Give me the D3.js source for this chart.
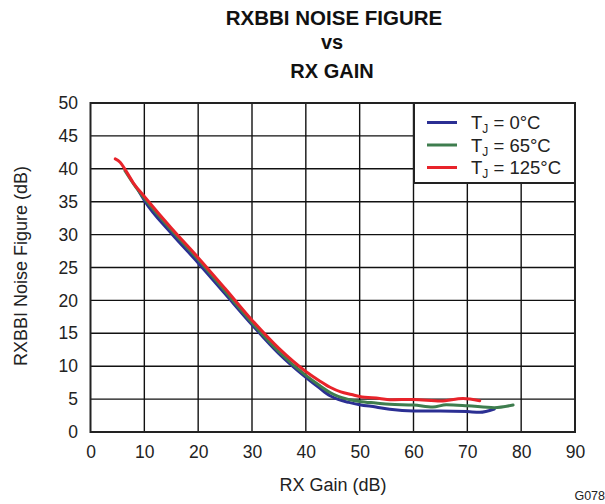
<!DOCTYPE html>
<html>
<head>
<meta charset="utf-8">
<script src="https://cdn.jsdelivr.net/npm/d3@7"></script>
<style>
  html, body { margin: 0; padding: 0; background: #fff; }
  svg { display: block; font-family: Arial, "Liberation Sans", Helvetica, sans-serif; }
</style>
</head>
<body>
<svg id="chart" width="605" height="504"></svg>
<script>
// ---- data ----
const xTicks = [0, 10, 20, 30, 40, 50, 60, 70, 80, 90];
const yTicks = [0, 5, 10, 15, 20, 25, 30, 35, 40, 45, 50];

const gain0 = [8.9, 10, 15, 20, 25, 30, 35, 40, 42.5, 44.5, 46, 48, 50, 53, 55.6, 60, 65, 70, 72.3, 75];
const nf0   = [36.7, 35.2, 30.2, 25.7, 21.0, 16.3, 11.9, 8.3, 6.7, 5.5, 4.95, 4.5, 4.15, 3.8, 3.45, 3.2, 3.2, 3.1, 3.0, 3.5];

const gain65 = [6.4, 8, 10, 15, 20, 25, 30, 35, 40, 42.5, 44.5, 46, 48, 50, 53, 55.6, 60, 63.6, 66.1, 70, 75, 78.5];
const nf65   = [39.7, 37.7, 35.5, 30.7, 26.2, 21.4, 16.6, 12.2, 8.6, 7.1, 6.0, 5.4, 4.95, 4.65, 4.4, 4.2, 4.1, 3.8, 4.15, 4.0, 3.7, 4.1];

const gain125 = [4.6, 5.5, 6.5, 8, 10, 15, 20, 25, 30, 35, 40, 42.5, 44.5, 46.5, 48.5, 50, 53.7, 55.6, 60, 65, 69.2, 72.3];
const nf125   = [41.5, 41.0, 39.8, 37.8, 35.8, 31.0, 26.5, 21.8, 17.0, 12.7, 9.2, 7.8, 6.8, 6.1, 5.7, 5.4, 5.1, 4.9, 4.95, 4.7, 5.1, 4.75];

const seriesNames = ["0°C", "65°C", "125°C"];
const seriesColors = ["#2b2f93", "#3e7d4e", "#e8232a"];

const series = [
  { name: seriesNames[0], color: seriesColors[0], pts: gain0.map((g, i) => [g, nf0[i]]) },
  { name: seriesNames[1], color: seriesColors[1], pts: gain65.map((g, i) => [g, nf65[i]]) },
  { name: seriesNames[2], color: seriesColors[2], pts: gain125.map((g, i) => [g, nf125[i]]) }
];

// ---- layout ----
const svg = d3.select("#chart");
const L = 90.5, R = 575, T = 103, B = 432;
const x = d3.scaleLinear().domain([0, 90]).range([L, R]);
const y = d3.scaleLinear().domain([0, 50]).range([B, T]);

// title
const title = svg.append("g").attr("font-weight", "bold").attr("text-anchor", "middle").attr("fill", "#111");
title.append("text").attr("x", 334).attr("y", 25).attr("font-size", 20.5).text("RXBBI NOISE FIGURE");
title.append("text").attr("x", 332).attr("y", 49).attr("font-size", 20).text("vs");
title.append("text").attr("x", 332).attr("y", 78).attr("font-size", 20).text("RX GAIN");

// grid
const grid = svg.append("g").attr("stroke", "#111").attr("stroke-width", 1.4);
grid.selectAll("line.v").data(xTicks.slice(1, -1)).join("line")
  .attr("x1", d => x(d)).attr("x2", d => x(d)).attr("y1", T).attr("y2", B);
grid.selectAll("line.h").data(yTicks.slice(1, -1)).join("line")
  .attr("y1", d => y(d)).attr("y2", d => y(d)).attr("x1", L).attr("x2", R);

// axes (labels only)
const xAxis = d3.axisBottom(x).tickValues(xTicks).tickSize(0).tickPadding(13.5);
const gx = svg.append("g").attr("transform", `translate(0,${B})`).call(xAxis);
gx.select(".domain").remove();
gx.selectAll("text").attr("font-size", 17.5).attr("fill", "#222").attr("font-family", "Arial, 'Liberation Sans', sans-serif");

const yAxis = d3.axisLeft(y).tickValues(yTicks).tickSize(0).tickPadding(12.5);
const gy = svg.append("g").attr("transform", `translate(${L},0)`).call(yAxis);
gy.select(".domain").remove();
gy.selectAll("text").attr("font-size", 17.5).attr("fill", "#222").attr("font-family", "Arial, 'Liberation Sans', sans-serif");

// axis titles
svg.append("text").attr("x", 333).attr("y", 491).attr("text-anchor", "middle")
  .attr("font-size", 18).attr("fill", "#222").text("RX Gain (dB)");
svg.append("text").attr("transform", "translate(27,266) rotate(-90)").attr("text-anchor", "middle")
  .attr("font-size", 18).attr("fill", "#222").text("RXBBI Noise Figure (dB)");
svg.append("text").attr("x", 605).attr("y", 500).attr("text-anchor", "end")
  .attr("font-size", 12.5).attr("fill", "#222").text("G078");

// lines
const line = d3.line().x(d => x(d[0])).y(d => y(d[1])).curve(d3.curveMonotoneX);
svg.append("g").selectAll("path").data(series).join("path")
  .attr("d", d => line(d.pts)).attr("fill", "none")
  .attr("stroke", d => d.color).attr("stroke-width", 3)
  .attr("stroke-linejoin", "round").attr("stroke-linecap", "round");

// frame
svg.append("rect").attr("x", L).attr("y", T).attr("width", R - L).attr("height", B - T)
  .attr("fill", "none").attr("stroke", "#222").attr("stroke-width", 2);

// legend
const lg = svg.append("g");
lg.append("rect").attr("x", 414).attr("y", T).attr("width", R - 414).attr("height", 80)
  .attr("fill", "#fff").attr("stroke", "#222").attr("stroke-width", 2);
const items = lg.selectAll("g.item").data(series).join("g")
  .attr("transform", (d, i) => `translate(0,${122.5 + i * 22.5})`);
items.append("line").attr("x1", 427).attr("x2", 457).attr("y1", 0).attr("y2", 0)
  .attr("stroke", d => d.color).attr("stroke-width", 3);
const t = items.append("text").attr("x", 471).attr("y", 6.5).attr("font-size", 18.5).attr("fill", "#222");
t.append("tspan").text("T");
t.append("tspan").attr("font-size", 12).attr("dy", 4).text("J");
t.append("tspan").attr("dy", -4).text(d => " = " + d.name);
</script>
</body>
</html>
